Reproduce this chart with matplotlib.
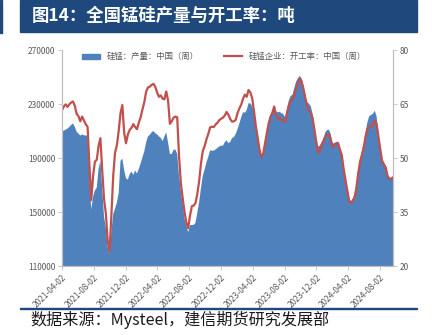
import numpy as np
import pandas as pd
import matplotlib
matplotlib.use('Agg')
import matplotlib.pyplot as plt
from matplotlib.patches import Rectangle, Patch
from matplotlib.lines import Line2D

plt.rcParams['font.family'] = ['Noto Sans CJK SC', 'DejaVu Sans']
plt.rcParams['axes.unicode_minus'] = False

# weekly data starting 2021-04-02
start_date = '2021-04-02'

# 硅锰：产量：中国（周）, tons
production = [
    209500, 210300, 211000, 211800, 213000, 214500, 215600, 213000, 209500, 208000,
    206600, 207400, 206800, 206700, 206500, 176000, 152000, 161500, 166000, 168000,
    182000, 188000, 167000, 146500, 138000, 124000, 119000, 135000, 148500, 152500,
    157000, 164000, 188000, 189500, 181000, 175000, 174000, 178000, 180000, 177500,
    180800, 178500, 182000, 186000, 190500, 195000, 201500, 206000, 207200, 209000,
    210000, 208300, 207500, 206000, 205000, 202500, 206000, 209000, 201500, 193000,
    193000, 196000, 196300, 193000, 177000, 165500, 156000, 145000, 140000, 135000,
    140200, 140400, 140400, 142000, 149500, 157500, 168000, 177000, 181500, 187000,
    190800, 195800, 195300, 195500, 196300, 197500, 198500, 199200, 199000, 201700,
    203100, 201000, 202000, 204800, 205500, 207800, 211500, 215500, 220200, 224000,
    223500, 225500, 230600, 230500, 228500, 223000, 213000, 205500, 197000, 191500,
    194500, 201500, 209500, 215700, 221800, 224500, 229000, 224500, 223800, 224200,
    223200, 222500, 220200, 226000, 232500, 236000, 236700, 241800, 246500, 249100,
    250800, 249000, 243500, 236200, 231500, 230300, 228500, 222800, 213500, 205000,
    198500, 199300, 202000, 205000, 209000, 210800, 211000, 207500, 200500, 201200,
    201800, 202200, 197500, 192200, 181500, 174000, 166000, 159000, 157800, 160000,
    163500, 171000, 181500, 188500, 194800, 200500, 209000, 216500, 221000, 221800,
    222800, 225000, 221000, 209000, 198000, 188800, 186000, 182800, 178500, 175500,
    175300, 175700,
]

# 硅锰企业：开工率：中国（周）, %
utilization = [
    63.3, 64.3, 64.9, 64.2, 64.9, 65.4, 65.7, 64.5, 62.3, 61.6,
    60.2, 61.5, 60.4, 59.4, 58.6, 48.0, 38.3, 45.0, 49.0, 49.5,
    53.4, 55.5, 46.5, 38.5, 34.5, 27.0, 24.0, 34.0, 45.0, 51.5,
    53.5, 57.5, 62.5, 64.7, 57.0, 54.1, 56.5, 57.8, 58.4, 59.4,
    58.6, 58.0, 59.8, 61.3, 63.5, 65.5, 68.4, 69.6, 69.8, 70.3,
    70.6, 69.8, 68.2, 67.0, 67.4, 66.5, 66.3, 68.5, 66.0, 59.5,
    60.2, 61.2, 61.5, 61.3, 50.5, 43.0, 38.8, 35.0, 32.0, 30.5,
    34.0, 36.6, 36.8, 37.5, 40.0, 43.6, 48.5, 52.0, 53.3, 55.2,
    56.7, 58.5, 58.7, 58.6, 59.3, 59.8, 60.5, 60.9, 61.2, 61.8,
    62.8, 62.0, 60.8, 60.1, 60.2, 60.6, 62.5, 63.8, 64.8, 66.5,
    67.6, 67.0, 68.9, 68.2, 66.6, 63.0, 58.8, 55.7, 52.3, 50.3,
    51.1, 54.0, 56.9, 59.6, 61.4, 62.5, 64.3, 62.0, 61.0, 61.1,
    60.5, 60.6, 59.9, 62.4, 64.5, 65.8, 66.3, 67.5, 69.2, 70.8,
    72.0, 71.3, 69.3, 66.9, 64.4, 63.2, 62.6, 61.2, 58.0, 54.6,
    51.5, 51.9, 53.5, 54.5, 55.9, 56.5, 56.6, 55.0, 53.0, 53.8,
    53.9, 54.1, 52.3, 50.8, 47.0, 44.0, 41.0, 38.2, 37.5, 38.1,
    39.0, 41.8, 45.8, 49.0, 50.9, 53.0, 56.0, 58.0, 58.7, 58.7,
    59.0, 60.4, 59.5, 56.0, 52.6, 49.3, 48.3, 47.4, 45.0, 44.2,
    44.2, 44.6,
]

xtick_labels = ['2021-04-02', '2021-08-02', '2021-12-02', '2022-04-02', '2022-08-02',
                '2022-12-02', '2023-04-02', '2023-08-02', '2023-12-02', '2024-04-02',
                '2024-08-02']
left_ticks = [110000, 150000, 190000, 230000, 270000]
right_ticks = [20, 35, 50, 65, 80]

title = '图14：全国锰硅产量与开工率：吨'
source = '数据来源：Mysteel，建信期货研究发展部'
label_prod = '硅锰：产量：中国（周）'
label_rate = '硅锰企业：开工率：中国（周）'

dates = pd.date_range(start_date, periods=len(production), freq='7D')

blue = '#4F81BD'
red = '#C0504D'
navy = '#1F497D'
grey_txt = '#595959'
spine_col = '#BFBFBF'

fig = plt.figure(figsize=(4.34, 3.35), dpi=100)

# title bar
fig.patches.append(Rectangle((20 / 434, 1 - 32 / 335), 397 / 434, 32 / 335,
                             transform=fig.transFigure, color=navy, zorder=0))
fig.patches.append(Rectangle((0, 1 - 33 / 335), 2 / 434, 33 / 335,
                             transform=fig.transFigure, color=navy, zorder=0))
fig.text(32 / 434, 1 - 16 / 335, title, color='white', fontsize=12.5,
         fontweight='bold', va='center', ha='left')

ax = fig.add_axes([62 / 434, 1 - 266 / 335, 331 / 434, 216 / 335])
ax.fill_between(dates, production, 0, color=blue, linewidth=0)
ax.set_ylim(110000, 270000)
ax.set_yticks(left_ticks)
ax.set_xlim(dates[0], dates[-1])
ax.set_xticks(pd.to_datetime(xtick_labels))
ax.set_xticklabels(xtick_labels, rotation=45, ha='right', rotation_mode='anchor')

ax2 = ax.twinx()
ax2.plot(dates, utilization, color=red, linewidth=1.6)
ax2.set_ylim(20, 80)
ax2.set_yticks(right_ticks)

for a in (ax, ax2):
    for s in a.spines.values():
        s.set_color(spine_col)
        s.set_linewidth(0.8)
    a.spines['top'].set_visible(False)
    a.tick_params(labelsize=6, colors=grey_txt, length=3, width=0.6,
                  color=spine_col, pad=2)

handles = [Patch(color=blue), Line2D([0], [0], color=red, linewidth=1.6)]
ax.legend(handles, [label_prod, label_rate], loc='upper center',
          bbox_to_anchor=(0.49, 1.025), ncol=2, frameon=False, fontsize=6,
          handlelength=2.2, handleheight=0.6, columnspacing=3.0,
          labelcolor=grey_txt)

# footer
fig.patches.append(Rectangle((20 / 434, 1 - 309 / 335), 397 / 434, 1.3 / 335,
                             transform=fig.transFigure, color=navy, zorder=0))
fig.text(30 / 434, 1 - 320 / 335, source, fontsize=11.6, fontstyle='italic',
         color='#1a1a1a', va='center', ha='left')

fig.savefig('out.png', dpi=100)
